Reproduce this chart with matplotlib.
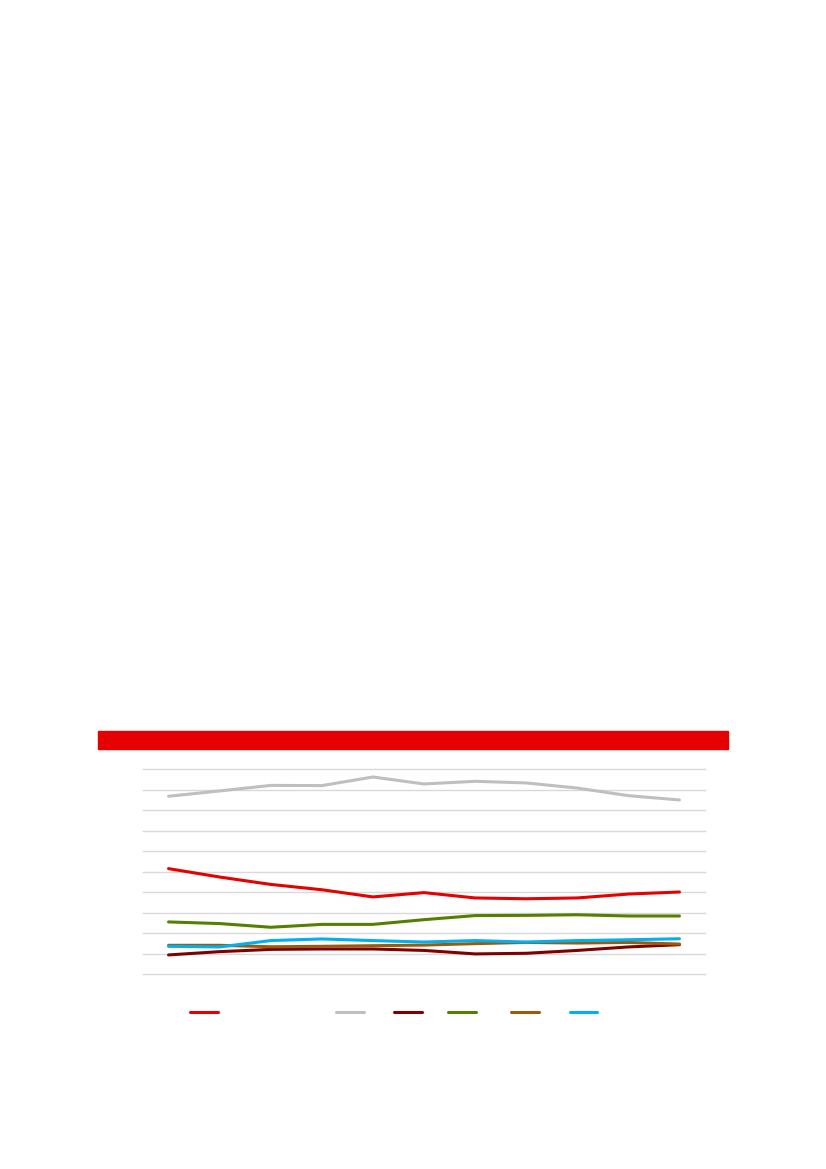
import matplotlib.pyplot as plt
from matplotlib.patches import Rectangle

# 11 periods, values in gridline units (no labels shown on the reference)
periods = list(range(11))

red_vals = [5.14, 4.73, 4.37, 4.11, 3.76, 3.97, 3.71, 3.67, 3.71, 3.90, 4.00]
gray_vals = [8.67, 8.93, 9.20, 9.19, 9.61, 9.27, 9.40, 9.32, 9.07, 8.70, 8.49]
darkred_vals = [0.93, 1.09, 1.20, 1.22, 1.22, 1.15, 0.98, 1.01, 1.15, 1.32, 1.43]
green_vals = [2.54, 2.46, 2.28, 2.42, 2.42, 2.65, 2.85, 2.86, 2.89, 2.83, 2.83]
brown_vals = [1.40, 1.40, 1.33, 1.35, 1.38, 1.41, 1.48, 1.54, 1.51, 1.54, 1.46]
cyan_vals = [1.35, 1.32, 1.63, 1.71, 1.63, 1.56, 1.63, 1.56, 1.63, 1.67, 1.72]

series = [
    (red_vals, '#E60000', ' ' * 27),
    (gray_vals, '#BFBFBF', ' ' * 7),
    (darkred_vals, '#800000', ' ' * 6),
    (green_vals, '#548000', ' ' * 8),
    (brown_vals, '#9C5B0A', ' ' * 7),
    (cyan_vals, '#00B0F0', ' ' * 7),
]

W, H = 826, 1169
fig = plt.figure(figsize=(W / 100, H / 100), dpi=100)

# red header bar
fig.patches.append(Rectangle((98 / W, 1 - 749 / H), 630 / W, 18 / H,
                             transform=fig.transFigure, color='#E60000', zorder=0))

ax = fig.add_axes([143 / W, 1 - 974 / H, 562 / W, 205 / H])
handles = []
for vals, col, lab in series:
    ln, = ax.plot(periods, vals, color=col, lw=2.2, solid_capstyle='round', label=lab)
    handles.append(ln)

ax.set_xlim(-0.5, 10.5)
ax.set_ylim(0, 10)
ax.set_yticks(range(11))
ax.grid(axis='y', color='#D9D9D9', lw=1)
for gl in ax.get_ygridlines():
    gl.set_clip_on(False)
ax.set_axisbelow(True)
ax.tick_params(length=0, labelleft=False, labelbottom=False)
for s in ax.spines.values():
    s.set_visible(False)

fig.legend(handles=handles, loc='center left', bbox_to_anchor=(190 / W, 1 - 1013 / H),
           ncol=6, frameon=False, handlelength=2.0, handletextpad=0.0,
           columnspacing=0.0, borderpad=0, borderaxespad=0, fontsize=10)

fig.savefig('out.png', dpi=100)
